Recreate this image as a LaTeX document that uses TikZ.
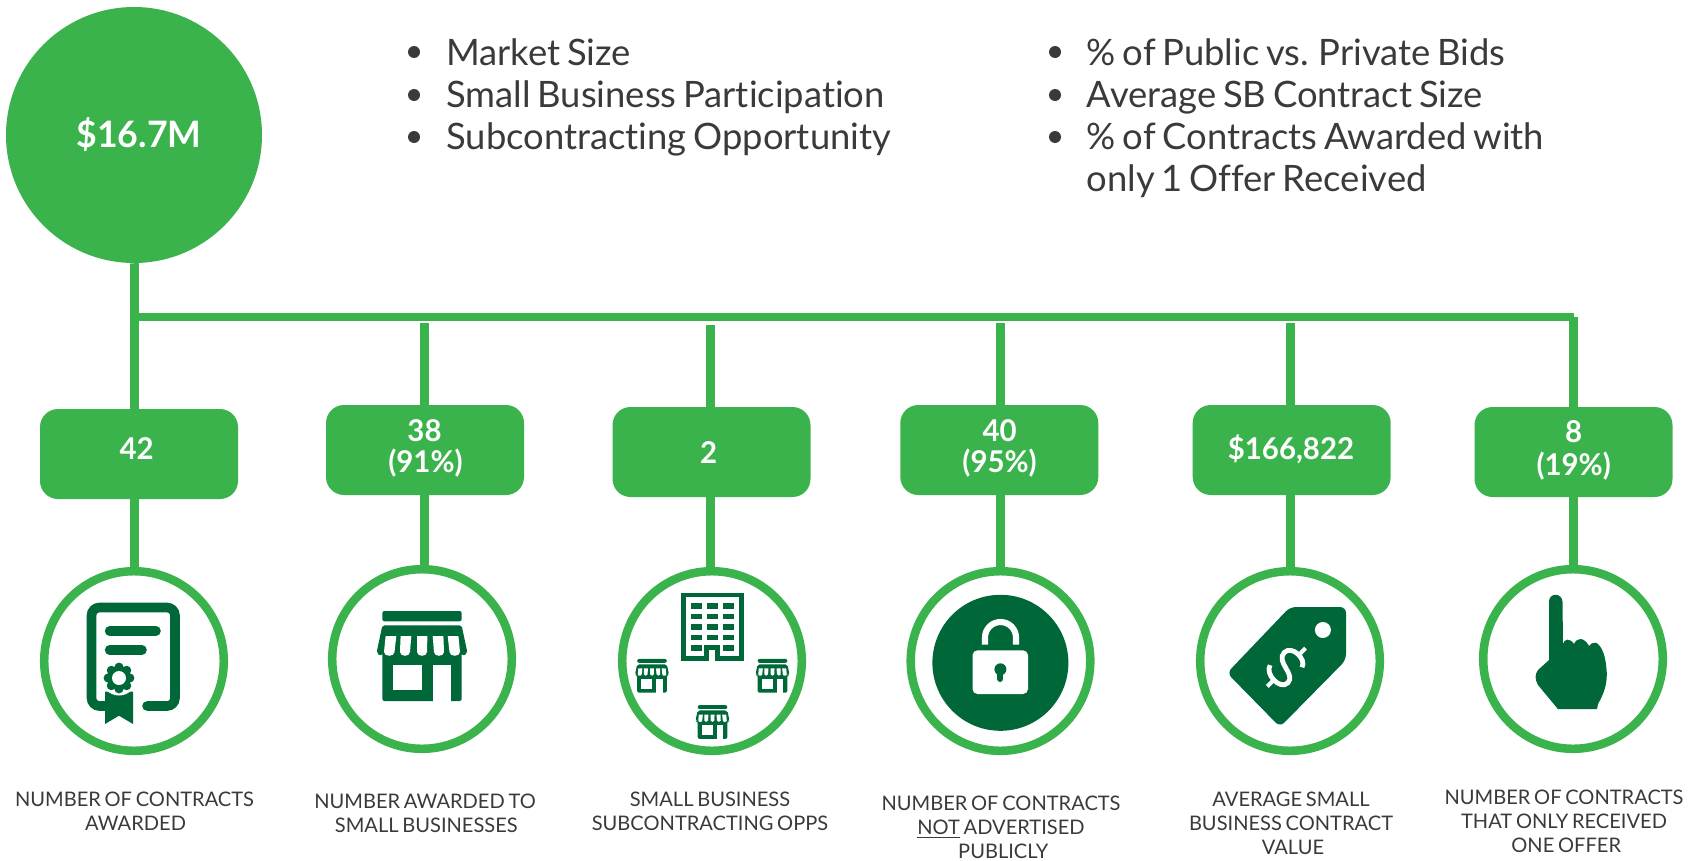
\documentclass[tikz,border=0pt]{standalone}
\usepackage{fontspec}
\setmainfont{Lato}[Ligatures=NoCommon,WordSpace=0.72]
\newfontfamily\latomed{Lato Bold}[Ligatures=NoCommon,FakeStretch=0.98]
\definecolor{gr}{HTML}{3BB34C}
\definecolor{dg}{HTML}{006838}
\definecolor{tx}{HTML}{3A3A3C}
\tikzset{
  rootc/.style={circle,fill=gr,minimum size=192pt,inner sep=0pt},
  valbox/.style={fill=gr,rounded corners=13.5pt,minimum width=148.5pt,minimum height=67.5pt,inner sep=0pt},
  ring/.style={circle,draw=gr,line width=6.4pt,minimum size=134.7pt,inner sep=0pt},
  stem/.style={draw=gr,line width=6.75pt},
  busline/.style={draw=gr,line width=6pt},
  vallab/.style={text=white,font=\fontsize{22.5}{22.5}\selectfont\latomed,anchor=base,inner sep=0pt},
  capt/.style={text=tx,font=\fontsize{15.05}{18}\selectfont,anchor=base,align=center,inner sep=0pt},
  blist/.style={text=tx,font=\fontsize{27.3}{31.5}\selectfont,anchor=base west,align=left,inner sep=0pt},
  bdot/.style={circle,fill=tx,minimum size=9pt,inner sep=0pt},
}
\newcommand{\shopicon}[3]{%
\begin{scope}[shift={(#1,#2)},scale=#3]
 \fill[dg,rounded corners=1.5pt] (-39.6,-45) rectangle (39.6,-34.7);
 \fill[dg,rounded corners=1.5pt] (-39.6,-30.7) -- (39.6,-30.7) -- (45.5,-3) -- (41,0) -- (39.6,-3) -- (39.6,45) -- (-39.6,45) -- (-39.6,-3) -- (-41,0) -- (-45.5,-3) -- cycle;
 \foreach \a/\b/\c/\d in {-36.4/-25.7/-38/-27.5,-21.4/-10.7/-22/-12,-5/5.4/-5/5,10.7/21.4/12/22,25.7/36.4/27.5/38}{
   \fill[white] (\a,-20) -- (\b,-20) -- (\d,-4) .. controls (\d,1) and (\c,1) .. (\c,-4) -- cycle;
 }
 \fill[white] (-29.3,9) rectangle (0.4,34);
 \fill[white] (10.7,9) rectangle (29,46);
\end{scope}}
\begin{document}
\begin{tikzpicture}[x=0.75pt,y=-0.75pt]
\useasboundingbox (0,0) rectangle (1702,860);
% main nodes
\node[rootc] (root) at (134,135) {};
\node[valbox] (b1) at (139,454) {};
\node[valbox] (b2) at (425,450) {};
\node[valbox] (b3) at (711.5,452) {};
\node[valbox] (b4) at (999.3,450) {};
\node[valbox] (b5) at (1291.7,450) {};
\node[valbox] (b6) at (1573.5,452) {};
\node[ring] (r1) at (134,661) {};
\node[ring] (r2) at (422,659) {};
\node[ring] (r3) at (712,661) {};
\node[ring] (r4) at (1000.5,661) {};
\node[ring] (r5) at (1290,661) {};
\node[ring] (r6) at (1573,659) {};
% connectors
\coordinate (s1) at (134.5,317);
\coordinate (s2) at (424.5,323);
\coordinate (s3) at (710.5,325);
\coordinate (s4) at (1000.5,323);
\coordinate (s5) at (1290.5,323);
\coordinate (s6) at (1573,317);
\path[busline] (s1) -- (1574,317);
\path[stem] (root.south) -- (root.south -| s1) -- (s1 |- b1.north);
\foreach \i in {2,...,6}{ \path[stem] (s\i) -- (s\i |- b\i.north); }
\foreach \i in {1,...,6}{ \path[stem] (s\i |- b\i.south) -- ([yshift=-1pt]s\i |- r\i.north); }
% value labels
\node[text=white,font=\fontsize{27.3}{27.3}\selectfont\latomed,anchor=base,inner sep=0pt] (vroot) at (139,147) {\$16.7M};
\node[vallab] (v1) at (136.6,459) {42};
\node[vallab] (v2a) at (424.5,441) {38};
\node[vallab] (v2b) at (425.5,472.7) {(91\%)};
\node[vallab] (v3) at (708.7,463) {2};
\node[vallab] (v4a) at (999.6,441) {40};
\node[vallab] (v4b) at (999.6,472.7) {(95\%)};
\node[vallab] (v5) at (1291,459) {\$166,822};
\node[vallab] (v6a) at (1573.7,442.7) {8};
\node[vallab] (v6b) at (1573.7,475) {(19\%)};
% bullets
\foreach \n/\x/\y in {a/414/52,b/414/95,c/414/137,d/1055/52,e/1055/95,f/1055/137}{ \node[bdot] (dot\n) at (\x,\y) {}; }
\node[blist] (la) at (446,149) {Market Size\\Small Business Participation\\Subcontracting Opportunity};
\node[blist] (lb) at (1086.6,191) {\% of Public vs. Private Bids\\Average SB Contract Size\\\% of Contracts Awarded with\\only 1 Offer Received};
% captions
\node[capt] (c1) at (134.5,830.7) {NUMBER OF CONTRACTS\\\hspace*{1.5pt}AWARDED};
\node[capt] (c2) at (425,832.7) {NUMBER AWARDED TO\\\hspace*{2pt}SMALL BUSINESSES};
\node[capt] (c3) at (710,830.7) {SMALL BUSINESS\\SUBCONTRACTING OPPS};
\node[capt] (c4) at (1001,858.7) {NUMBER OF CONTRACTS\\\rlap{\rule[-2.6pt]{32pt}{1.1pt}}NOT ADVERTISED\\\hspace*{3.3pt}PUBLICLY};
\node[capt] (c5) at (1291,854.7) {AVERAGE SMALL\\BUSINESS CONTRACT\\\hspace*{3pt}VALUE};
\node[capt] (c6) at (1564,852.7) {NUMBER OF CONTRACTS\\THAT ONLY RECEIVED\\\hspace*{3.3pt}ONE OFFER};
% certificate icon
\draw[dg,line width=7.2pt,line cap=round,rounded corners=6pt] (105,706) -- (91.5,706) -- (91.5,607.5) -- (175,607.5) -- (175,706) -- (147,706);
\draw[dg,line width=7.2pt,line cap=round] (109.6,631) -- (156,631) (109.6,650) -- (142,650);
\fill[dg] (105,691.7) -- (133,691.7) -- (133,724) -- (119,715.7) -- (105,724) -- cycle;
\fill[white] (119,678) circle[radius=17.5];
\fill[dg] (119,678) circle[radius=12];
\foreach \a in {0,45,...,315}{ \fill[dg] (119,678) ++(\a:10.8) circle[radius=4.6]; }
\fill[white] (119,678) circle[radius=7];
% store icon
\shopicon{422}{656}{1}
% building and small stores
\fill[dg] (681,593) rectangle (744,661);
\fill[white] (685.7,597) rectangle (739.3,656);
\foreach \yy in {603,613.7,624,634.7,645.3}{
  \fill[dg] (691.4,\yy) rectangle +(10.6,5.7);
  \fill[dg] (723,\yy) rectangle +(10.6,5.7);
}
\foreach \yy in {603,613.7,624,634.7}{ \fill[dg] (707,\yy) rectangle +(10.6,5.7); }
\fill[dg] (704,645) rectangle (720.4,661);
\fill[white] (709.3,650.3) rectangle (715.4,661.5);
\shopicon{652}{675.8}{0.375}
\shopicon{772.5}{675.8}{0.375}
\shopicon{712.5}{722}{0.375}
% lock icon
\fill[dg] (1000.4,662.8) circle[radius=68];
\draw[white,line width=4.6pt] (985,644.5) -- (985,637.5) arc[start angle=180,end angle=360,radius=15.5] -- (1016,644.5);
\fill[white,rounded corners=3.75pt] (972.5,650.3) rectangle (1028,694);
\fill[dg] (1000.4,669.3) circle[radius=6];
\draw[dg,line width=4.5pt,line cap=round] (1000.4,671) -- (1000.4,679);
% price tag icon
\fill[dg,rounded corners=4.5pt] (1290,607) -- (1346,607) -- (1346,660) -- (1280,727) -- (1227,673) -- cycle;
\fill[white] (1322.9,630) circle[radius=8];
\begin{scope}[shift={(1286.4,667.3)},rotate=-45]
 \draw[white,line width=3.6pt] (11,-11) .. controls (9,-20) and (-12,-20) .. (-12,-9) .. controls (-12,4) and (12,-2) .. (12,10) .. controls (12,21) and (-11,20) .. (-13,10);
 \draw[white,line width=3pt] (0,-27) -- (0,-17) (0,17) -- (0,27);
\end{scope}
% pointing hand icon
\fill[dg] (1549,601.7) .. controls (1549,592.5) and (1562,592.5) .. (1562.5,601.7) -- (1563,645)
 .. controls (1564,638) and (1570,638) .. (1574,644)
 .. controls (1577,637) and (1584,637) .. (1589,646)
 .. controls (1592,642) and (1596,642) .. (1598,644)
 .. controls (1604,650) and (1606,660) .. (1606.8,673.3)
 .. controls (1607,686) and (1603,695) .. (1598,704) -- (1597,709) -- (1557.9,709) -- (1538,685)
 .. controls (1534.5,679) and (1535,674) .. (1538,670) -- (1549,660) -- cycle;
\end{tikzpicture}
\end{document}
